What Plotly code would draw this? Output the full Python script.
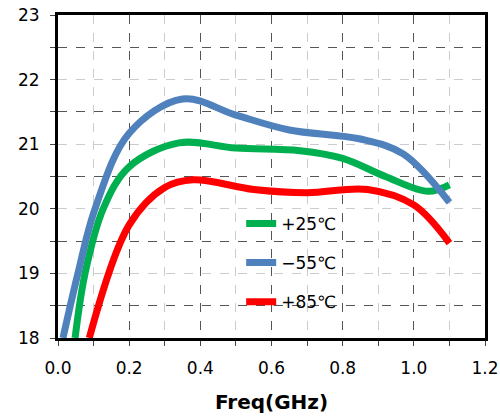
import plotly.graph_objects as go

freq_p25 = [0.048, 0.076, 0.127, 0.2, 0.34, 0.5, 0.68, 0.8, 0.92, 1.04, 1.1]
gain_p25 = [18.0, 19.0, 20.0, 20.65, 21.02, 20.94, 20.9, 20.78, 20.5, 20.27, 20.37]

freq_m55 = [0.014, 0.056, 0.104, 0.2, 0.35, 0.5, 0.65, 0.85, 0.97, 1.1]
gain_m55 = [18.0, 19.0, 20.0, 21.17, 21.7, 21.45, 21.22, 21.08, 20.85, 20.1]

freq_p85 = [0.088, 0.2, 0.3, 0.38, 0.55, 0.7, 0.87, 1.0, 1.1]
gain_p85 = [18.0, 19.75, 20.33, 20.45, 20.3, 20.25, 20.3, 20.06, 19.47]

series = [
    ("+25℃", freq_p25, gain_p25, "#00B050"),
    ("−55℃", freq_m55, gain_m55, "#4F81BD"),
    ("+85℃", freq_p85, gain_p85, "#FF0000"),
]

fig = go.Figure()
for name, xs, ys, col in series:
    fig.add_trace(go.Scatter(x=xs, y=ys, name=name, mode="lines", legendgroup=name,
                             line=dict(color=col, width=7, shape="spline", smoothing=1.0)))

font = "DejaVu Sans, Verdana, sans-serif"
fig.update_layout(
    width=500, height=420,
    margin=dict(l=58, r=15, t=15, b=82),
    paper_bgcolor="white", plot_bgcolor="white",
    font=dict(family=font, size=17, color="black"),
    showlegend=True,
    legend=dict(x=0.429, y=0.409, xanchor="left", yanchor="top", bgcolor="rgba(0,0,0,0)",
                font=dict(size=17), tracegroupgap=14),
    xaxis=dict(range=[0, 1.2], dtick=0.2, tickformat=".1f", showline=True, linewidth=3,
               linecolor="black", mirror=True, ticks="outside", ticklen=5, tickwidth=1,
               automargin=False, ticklabelstandoff=8,
               showgrid=True, gridcolor="#555555", griddash="dash", gridwidth=1, zeroline=False,
               minor=dict(dtick=0.1, showgrid=True, gridcolor="#cccccc", griddash="dash",
                          ticks="outside", ticklen=5),
               title=dict(text="<b>Freq(GHz)</b>", font=dict(size=20), standoff=18)),
    yaxis=dict(range=[18, 23], dtick=1, showline=True, linewidth=3, linecolor="black",
               mirror=True, ticks="outside", ticklen=5, tickwidth=1, automargin=False,
               ticklabelstandoff=7,
               showgrid=True, gridcolor="#cccccc", griddash="dash", zeroline=False,
               minor=dict(dtick=0.5, showgrid=True, gridcolor="#555555", griddash="dash",
                          ticks="outside", ticklen=5)),
)

fig.write_html("out.html", config={"displayModeBar": False},
               post_script="document.body.style.margin='0';")
